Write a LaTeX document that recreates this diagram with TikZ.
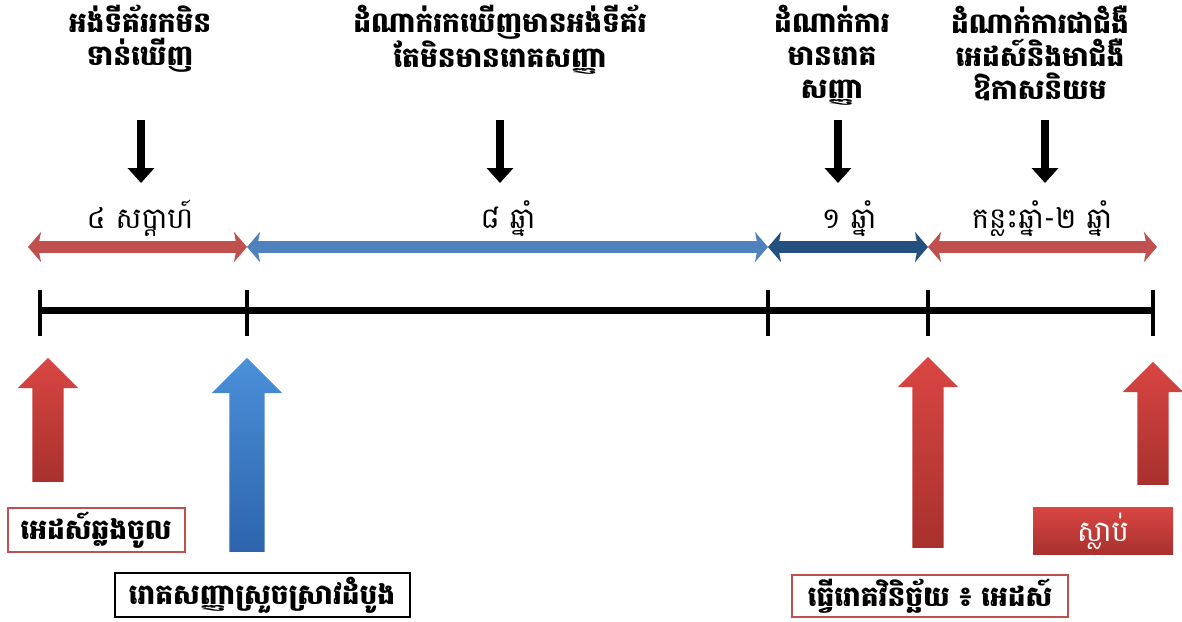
\documentclass[tikz,border=0pt]{standalone}
\usepackage{fontspec}
\newfontfamily\khmer[Script=Khmer]{Battambang}
\usepackage{tikz}
\usetikzlibrary{positioning,arrows.meta,shapes.arrows}

\definecolor{spanred}{HTML}{C0504D}
\definecolor{spanblue}{HTML}{4F81BD}
\definecolor{spandark}{HTML}{24507F}
\definecolor{upred}{HTML}{D94643}
\definecolor{upreddk}{HTML}{A8302D}
\definecolor{upblue}{HTML}{4A90DA}
\definecolor{upbluedk}{HTML}{2D64AC}

\begin{document}
\begin{tikzpicture}[x=1pt,y=-1pt,
    every node/.style={font=\khmer\fontsize{29}{33}\selectfont},
    stage/.style={align=center,anchor=north,font=\khmer\bfseries\fontsize{28}{33}\selectfont},
    span/.style={anchor=base},
    tick/.style={line width=4pt},
    axis/.style={line width=7pt},
    period/.style={line width=12pt,{Stealth[length=13pt,width=30pt,inset=3pt]}-{Stealth[length=13pt,width=30pt,inset=3pt]}},
    downarr/.style={line width=8pt,-{Triangle[length=15pt,width=26pt]}},
    uparr/.style={single arrow,shape border rotate=90,anchor=tail,inner sep=0pt,text width=31pt,
        minimum width=60pt,single arrow head extend=14.5pt,single arrow head indent=0pt},
    box/.style={draw,line width=2pt,inner sep=0pt,minimum height=44pt,font=\khmer\bfseries\fontsize{28}{33}\selectfont}
  ]
  \useasboundingbox (0,0) rectangle (1182,621);

  % stages on top
  \node[stage] (top1) at (140,2) {អង់ទីគ័ររកមិន\\ទាន់ឃើញ};
  \node[stage] (top2) at (500,2) {ដំណាក់រកឃើញមានអង់ទីគ័រ\\តែមិនមានរោគសញ្ញា};
  \node[stage] (top3) at (832,2) {ដំណាក់ការ\\មានរោគ\\សញ្ញា};
  \node[stage] (top4) at (1040,2) {ដំណាក់ការជាជំងឺ\\អេដស៍និងមាជំងឺ\\ឱកាសនិយម};

  \foreach \x [count=\i] in {141,500,838,1045} {
    \coordinate (da\i) at (\x,120);
    \coordinate (db\i) at (\x,183);
    \draw[downarr] (da\i) -- (db\i);
  }

  % durations
  \node[span] (span1) at (140,228) {៤ សប្តាហ៍};
  \node[span] (span2) at (508,228) {៨ ឆ្នាំ};
  \node[span] (span3) at (849,228) {១ ឆ្នាំ};
  \node[span] (span4) at (1042,228) {កន្លះឆ្នាំ-២ ឆ្នាំ};

  \foreach \x [count=\i from 0] in {28,247,768,928,1157}
    \coordinate (p\i) at (\x,247);
  \draw[period,spanred] (p0) -- (p1);
  \draw[period,spanblue] (p1) -- (p2);
  \draw[period,spandark] (p2) -- (p3);
  \draw[period,spanred] (p3) -- (p4);

  % time line
  \foreach \x [count=\i from 0] in {40,247,768,928,1153} {
    \coordinate (t\i) at (\x,310);
    \draw[tick] ([yshift=20pt]t\i) -- ([yshift=-26pt]t\i);
  }
  \draw[axis] (t0) -- (t4);

  % events
  \node[uparr,minimum height=124pt,top color=upred,bottom color=upreddk] (ev1) at (48,482) {};
  \node[uparr,minimum height=194pt,text width=35pt,minimum width=70pt,single arrow head extend=17.5pt,
        top color=upblue,bottom color=upbluedk] (ev2) at (247,552) {};
  \node[uparr,minimum height=191pt,top color=upred,bottom color=upreddk] (ev3) at (928,548) {};
  \node[uparr,minimum height=123pt,top color=upred,bottom color=upreddk] (ev4) at (1153,485) {};

  \node[box,draw=spanred,minimum width=177pt] (infect) at (96,530) {អេដស៍ឆ្លងចូល};
  \node[box,minimum width=295pt] (acute) at (262,595) {រោគសញ្ញាស្រួចស្រាវដំបូង};
  \node[box,draw=spanred,minimum width=276pt,minimum height=42pt] (diag) at (930,596) {ធ្វើរោគវិនិច្ឆ័យ ៖ អេដស៍};
  \node[inner sep=0pt,minimum width=140pt,minimum height=47pt,text=white,
        top color=upred,bottom color=upreddk] (death) at (1103,531) {ស្លាប់};
\end{tikzpicture}
\end{document}
